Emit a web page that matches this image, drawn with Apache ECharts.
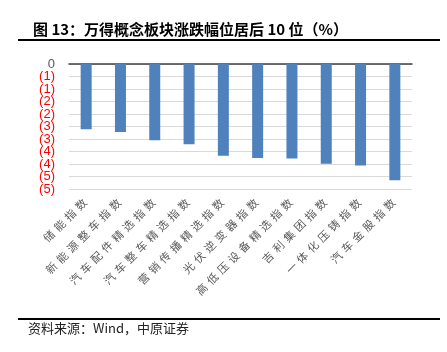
<!DOCTYPE html>
<html>
<head>
<meta charset="utf-8">
<script src="https://cdn.jsdelivr.net/npm/echarts@6/dist/echarts.min.js"></script>
<style>
  html, body { margin: 0; padding: 0; background: #fff; }
  #chart { width: 447px; height: 352px; }
</style>
</head>
<body>
<div id="chart"></div>
<script>
// 板块名称
var categories = ['储能指数', '新能源整车指数', '汽车配件精选指数', '汽车整车精选指数', '营销传播精选指数',
  '光伏逆变器指数', '高低压设备精选指数', '吉利集团指数', '一体化压铸指数', '汽车金股指数'];
// 涨跌幅(%)
var changes = [-2.61, -2.72, -3.05, -3.21, -3.67, -3.76, -3.78, -3.99, -4.06, -4.65];

var chart = echarts.init(document.getElementById('chart'));

// 纵轴刻度: 0 与负数括号显示(红色)
function yFmt(v) {
  if (v === 0) return '0';
  return '(' + Math.round(Math.abs(v)) + ')';
}
var yLabel = {
  margin: 14,
  fontSize: 13,
  fontFamily: 'Liberation Sans',
  showMinLabel: true,
  showMaxLabel: true,
  color: function (v) { return Number(v) === 0 ? '#595959' : '#ff0000'; },
  formatter: yFmt
};

// 主网格高 125px, 每 0.5 对应 12.5px
var option = {
  animation: false,
  title: {
    text: '图 13：万得概念板块涨跌幅位居后 10 位（%）',
    left: 28, top: 17,
    textStyle: { fontSize: 15, fontWeight: 'bold', color: '#000', fontFamily: 'Noto Sans CJK SC' }
  },
  graphic: [
    { type: 'rect', shape: { x: 18, y: 39, width: 422, height: 2 }, style: { fill: '#000' } },
    { type: 'rect', shape: { x: 18, y: 318, width: 422, height: 2 }, style: { fill: '#000' } },
    { type: 'text', left: 28, top: 322,
      style: { text: '资料来源：Wind，中原证券', fontSize: 13, fill: '#222', fontFamily: 'Noto Sans CJK SC' } }
  ],
  grid: [
    { left: 69, right: 35, top: 64, bottom: 163 },
    { left: 69, right: 35, top: 76.5, bottom: 175.5 }
  ],
  xAxis: [{
    type: 'category',
    data: categories,
    gridIndex: 0,
    position: 'bottom',
    axisLine: { show: false, onZero: false },
    axisTick: { show: false },
    axisLabel: {
      interval: 0,
      rotate: 45,
      margin: 10,
      color: '#595959',
      formatter: function (v) {
        return v.split('').map(function (c) { return '{c|' + c + '}'; }).join('');
      },
      rich: { c: { width: 15, align: 'center', fontSize: 11, color: '#595959', fontFamily: 'Noto Sans CJK SC' } }
    }
  }, {
    type: 'category',
    data: categories,
    gridIndex: 0,
    position: 'top',
    axisLine: { show: true, onZero: false, lineStyle: { color: '#404040', width: 1.5 } },
    axisTick: { show: false },
    axisLabel: { show: false }
  }, {
    type: 'category',
    data: categories,
    gridIndex: 1,
    show: false
  }],
  yAxis: [{
    type: 'value',
    gridIndex: 0,
    min: -5, max: 0, interval: 0.5,
    axisLine: { show: false },
    axisTick: { show: false },
    axisLabel: { show: false },
    splitLine: { lineStyle: { color: '#d9d9d9', width: 1 } }
  }, {
    // 整数刻度标签
    type: 'value',
    gridIndex: 0,
    position: 'left',
    min: -5, max: 0, interval: 1,
    axisLine: { show: false },
    axisTick: { show: false },
    splitLine: { show: false },
    axisLabel: yLabel
  }, {
    // 半数刻度标签 (-0.5 ... -4.5)
    type: 'value',
    gridIndex: 1,
    position: 'left',
    min: -4.5, max: -0.5, interval: 1,
    axisLine: { show: false },
    axisTick: { show: false },
    splitLine: { show: false },
    axisLabel: yLabel
  }],
  series: [{
    type: 'bar',
    xAxisIndex: 0,
    yAxisIndex: 0,
    data: changes,
    barWidth: 11,
    itemStyle: { color: '#4f81bd' }
  }]
};

chart.setOption(option);
</script>
</body>
</html>
